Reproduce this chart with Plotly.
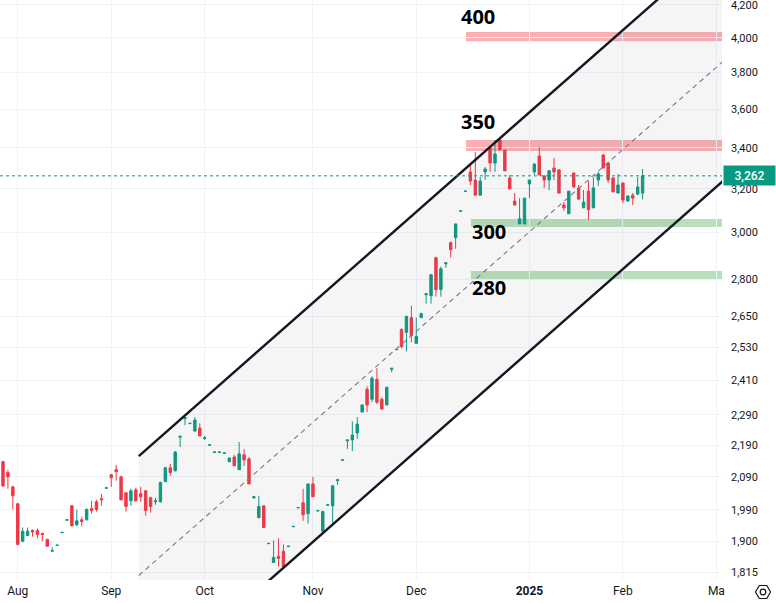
import math
import plotly.graph_objects as go

# ---------------- data ----------------
opens = [2137, 2103, 2059, 2008, 1900, 1916, 1931, 1930, 1922, 1905,
         1872, 1888, 1924, 1960, 2002, 1947, 1961, 1961, 1994, 2014,
         2023, 2055, 2096, 2112, 2090, 2041, 2017, 2050, 2038, 2047,
         2026, 2014, 2014, 2075, 2118, 2109, 2216, 2278, 2261, 2236,
         2246, 2212, 2190, 2167, 2167, 2164, 2137, 2152, 2112, 2159,
         2146, 2026, 1967, 2002, 1893, 1841, 1858, 1872, 1885, 1941,
         1996, 2011, 1979, 2068, 1987, 1928, 2004, 2002, 2078, 2142,
         2204, 2207, 2230, 2300, 2379, 2344, 2414, 2344, 2324, 2450,
         2522, 2599, 2588, 2645, 2546, 2645, 2736, 2732, 2890, 2757,
         2864, 2955, 2977, 3096, 3188, 3281, 3242, 3170, 3281, 3399,
         3324, 3440, 3389, 3252, 3143, 3038, 3038, 3223, 3281, 3359,
         3261, 3242, 3300, 3291, 3124, 3084, 3276, 3204, 3111, 3189,
         3111, 3242, 3364, 3324, 3252, 3180, 3228, 3143, 3170, 3175,
         3180]
highs = [2140, 2112, 2062, 2011, 1939, 1939, 1933, 1936, 1924, 1907,
         1883, 1889, 1925, 1961, 2005, 1991, 1970, 1994, 2017, 2020,
         2038, 2056, 2099, 2127, 2093, 2043, 2053, 2056, 2059, 2050,
         2029, 2026, 2075, 2121, 2130, 2171, 2220, 2283, 2262, 2283,
         2262, 2220, 2191, 2168, 2168, 2165, 2149, 2159, 2200, 2178,
         2152, 2032, 2032, 2002, 1894, 1902, 1908, 1891, 1886, 1942,
         1997, 2053, 2068, 2090, 1988, 1988, 2005, 2065, 2081, 2143,
         2207, 2269, 2283, 2327, 2389, 2425, 2454, 2351, 2386, 2454,
         2523, 2603, 2653, 2692, 2645, 2664, 2740, 2818, 2894, 2852,
         2868, 2959, 3038, 3097, 3189, 3314, 3379, 3256, 3305, 3409,
         3440, 3450, 3389, 3266, 3180, 3156, 3156, 3242, 3324, 3404,
         3266, 3291, 3349, 3291, 3138, 3189, 3276, 3218, 3194, 3237,
         3256, 3281, 3369, 3329, 3256, 3271, 3228, 3170, 3180, 3256,
         3295]
lows = [2059, 2053, 1991, 1888, 1897, 1914, 1913, 1908, 1900, 1885,
        1871, 1888, 1924, 1960, 1942, 1942, 1942, 1959, 1979, 1985,
        2002, 2055, 2059, 2078, 2018, 1985, 2002, 2014, 2014, 1973,
        1982, 2005, 2012, 2074, 2093, 2106, 2184, 2256, 2261, 2236,
        2220, 2207, 2190, 2167, 2167, 2164, 2137, 2124, 2112, 2124,
        2068, 2023, 1967, 1939, 1893, 1841, 1830, 1828, 1885, 1941,
        1996, 1958, 1950, 2029, 1987, 1928, 2004, 1950, 2065, 2142,
        2178, 2171, 2210, 2300, 2300, 2334, 2327, 2310, 2324, 2439,
        2522, 2527, 2516, 2550, 2546, 2645, 2700, 2700, 2728, 2728,
        2847, 2890, 2928, 3096, 3188, 3218, 3170, 3170, 3242, 3281,
        3281, 3389, 3286, 3199, 3124, 3038, 3038, 3156, 3266, 3266,
        3204, 3194, 3242, 3180, 3097, 3084, 3204, 3147, 3111, 3056,
        3111, 3213, 3300, 3228, 3185, 3180, 3133, 3138, 3124, 3170,
        3150]
closes = [2062, 2090, 2032, 1891, 1928, 1928, 1926, 1919, 1919, 1886,
          1874, 1889, 1925, 1961, 1944, 1958, 1956, 1991, 1988, 1991,
          2020, 2056, 2087, 2106, 2020, 2000, 2047, 2017, 2029, 1988,
          2000, 2017, 2072, 2118, 2103, 2168, 2219, 2281, 2262, 2273,
          2220, 2214, 2191, 2168, 2168, 2165, 2149, 2124, 2162, 2143,
          2068, 2029, 2000, 1939, 1894, 1855, 1852, 1830, 1886, 1942,
          1997, 1976, 2068, 2029, 1988, 1985, 2005, 2062, 2081, 2143,
          2207, 2223, 2259, 2324, 2324, 2418, 2334, 2310, 2386, 2454,
          2523, 2534, 2649, 2576, 2572, 2660, 2740, 2818, 2757, 2843,
          2868, 2924, 3038, 3097, 3189, 3237, 3170, 3237, 3295, 3324,
          3369, 3389, 3286, 3199, 3124, 3061, 3156, 3242, 3319, 3266,
          3242, 3286, 3281, 3180, 3111, 3189, 3209, 3152, 3138, 3102,
          3204, 3271, 3300, 3242, 3185, 3218, 3147, 3166, 3156, 3209,
          3262]

month_ticks = [3, 22, 41, 63, 84, 107, 126, 145]
month_labels = ["Aug", "Sep", "Oct", "Nov", "Dec", "<b>2025</b>", "Feb", "Ma"]

price_ticks = [1815, 1900, 1990, 2090, 2190, 2290, 2410, 2530, 2650,
               2800, 3000, 3200, 3400, 3600, 3800, 4000, 4200]
price_tick_labels = [f"{v:,}" for v in price_ticks]

last_price = 3262

# parallel channel anchors (bar index, price)
channel_x = [27.6, 150]
channel_upper = [2155, 4719]
channel_mid = [1806, 3955]
channel_lower = [1513, 3314]

# horizontal zones: (start bar, low, high, kind)
zones = [
    (94.1, 3980, 4035, "red"),
    (94.1, 3384, 3440, "red"),
    (95.1, 3024, 3060, "green"),
    (95.1, 2797, 2834, "green"),
]
zone_labels = [
    (92.7, 4132, "400"),
    (92.7, 3537, "350"),
    (94.9, 3002, "300"),
    (94.9, 2764, "280"),
]

# ---------------- figure ----------------
X_RANGE = [-0.61, 146.14]
Y_RANGE = [math.log10(1794), math.log10(4231)]

UP = "#089981"
DOWN = "#F23645"
TXT = "#131722"
GRID = "#f0f3fa"

idx = list(range(len(opens)))

fig = go.Figure()

# channel background
fig.add_trace(go.Scatter(
    x=[channel_x[0], channel_x[1], channel_x[1], channel_x[0], channel_x[0]],
    y=[channel_upper[0], channel_upper[1], channel_lower[1], channel_lower[0], channel_upper[0]],
    mode="lines", fill="toself", fillcolor="rgba(120,123,134,0.075)",
    line=dict(width=0), hoverinfo="skip"))

# zones
for x0, lo, hi, kind in zones:
    col = "rgba(242,54,69,0.4)" if kind == "red" else "rgba(76,175,80,0.4)"
    fig.add_shape(type="rect", xref="x", yref="y", x0=x0, x1=X_RANGE[1],
                  y0=lo, y1=hi, fillcolor=col, line=dict(width=0), layer="below")

# channel lines
fig.add_trace(go.Scatter(x=channel_x, y=channel_mid, mode="lines",
                         line=dict(color="#787b86", width=1.1, dash="5px,4px"),
                         hoverinfo="skip"))
fig.add_trace(go.Scatter(x=channel_x, y=channel_upper, mode="lines",
                         line=dict(color="#131722", width=2.4), hoverinfo="skip"))
fig.add_trace(go.Scatter(x=channel_x, y=channel_lower, mode="lines",
                         line=dict(color="#131722", width=2.4), hoverinfo="skip"))

# candles
fig.add_trace(go.Candlestick(
    x=idx, open=opens, high=highs, low=lows, close=closes,
    increasing=dict(line=dict(color=UP, width=1), fillcolor=UP),
    decreasing=dict(line=dict(color=DOWN, width=1), fillcolor=DOWN),
    whiskerwidth=0, hoverinfo="skip"))

# last price dotted line
fig.add_shape(type="line", xref="paper", yref="y", x0=0, x1=1,
              y0=last_price, y1=last_price,
              line=dict(color=UP, width=1, dash="dot"))

# zone labels
for x, y, t in zone_labels:
    fig.add_annotation(x=x, y=math.log10(y), xref="x", yref="y", text=f"<b>{t}</b>",
                       showarrow=False, xanchor="left", yanchor="middle",
                       font=dict(family="Open Sans", size=20, color="#000000"))

# price label box
fig.add_annotation(x=1, y=math.log10(last_price), xref="paper", yref="y",
                   text=f"{last_price:,}", showarrow=False, xanchor="left",
                   yanchor="middle", xshift=1, bgcolor=UP, borderpad=2,
                   width=47, height=15, align="center",
                   font=dict(family="Roboto", size=12, color="white", weight=500))

# settings icon (bottom right)
cx, cy, r = 763, 592, 7.5
pw, ph = 722, 580
def px2paper(px, py):
    return px / pw, (ph - py) / ph
pts = []
for k in range(6):
    a = math.radians(60 * k)
    pts.append(px2paper(cx + r * math.cos(a), cy + r * math.sin(a)))
path = "M " + " L ".join(f"{p[0]:.4f},{p[1]:.4f}" for p in pts) + " Z"
fig.add_shape(type="path", xref="paper", yref="paper", path=path,
              line=dict(color=TXT, width=1.2))
c0 = px2paper(cx - 2.8, cy - 2.8)
c1 = px2paper(cx + 2.8, cy + 2.8)
fig.add_shape(type="circle", xref="paper", yref="paper",
              x0=c0[0], x1=c1[0], y0=c1[1], y1=c0[1], line=dict(color=TXT, width=1.2))

fig.update_layout(
    width=776, height=603,
    margin=dict(l=0, r=54, t=0, b=23),
    paper_bgcolor="white", plot_bgcolor="white",
    showlegend=False,
    font=dict(family="Roboto", color=TXT, size=11),
    xaxis=dict(range=X_RANGE, rangeslider=dict(visible=False),
               tickmode="array", tickvals=month_ticks, ticktext=month_labels,
               showgrid=True, gridcolor=GRID, gridwidth=1, zeroline=False,
               ticks="", ticklabelstandoff=2, tickfont=dict(size=12, color=TXT),
               showline=False, fixedrange=True),
    yaxis=dict(type="log", range=Y_RANGE, side="right",
               tickmode="array", tickvals=price_ticks, ticktext=price_tick_labels,
               showgrid=True, gridcolor=GRID, gridwidth=1, zeroline=False,
               ticks="", ticklabelstandoff=8, ticklabeloverflow="allow",
               tickfont=dict(size=11, color=TXT),
               showline=False, fixedrange=True),
)

fig.write_html("out.html")
